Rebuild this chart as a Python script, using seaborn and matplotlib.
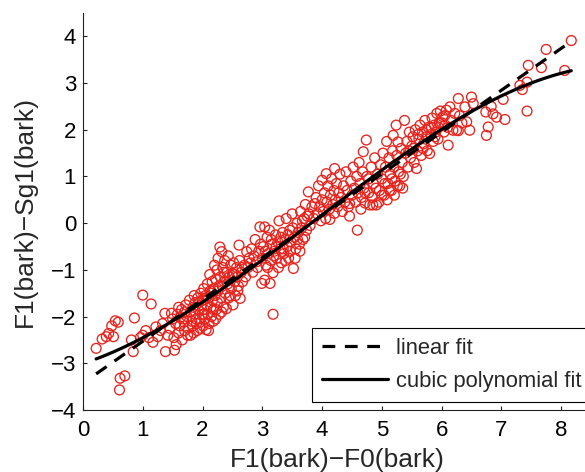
import numpy as np
import pandas as pd
import matplotlib
matplotlib.use("Agg")
import matplotlib.pyplot as plt
import seaborn as sns
from matplotlib.lines import Line2D

band_0_1 = [
    (0.22, -2.68), (0.32, -2.48), (0.39, -2.43), (0.43, -2.36), (0.48, -2.20),
    (0.51, -2.43), (0.54, -2.09), (0.59, -2.12), (0.61, -3.57), (0.62, -3.32),
    (0.70, -3.27), (0.81, -2.50), (0.84, -2.75), (0.86, -2.03), (0.96, -2.45),
    (1.00, -1.54), (1.00, -2.40), (1.05, -2.30), (1.10, -2.45), (1.14, -1.73),
    (1.17, -2.55), (1.22, -2.22), (1.25, -2.43), (1.30, -2.30), (1.33, -2.15),
    (1.37, -1.93), (1.38, -2.75), (1.42, -2.40), (1.48, -1.93), (1.53, -2.72),
]

band_1_2 = [
    (1.45, -2.25), (1.50, -2.05), (1.52, -2.45), (1.55, -2.15), (1.56, -2.60),
    (1.58, -1.95), (1.60, -2.35), (1.62, -2.20), (1.63, -2.02), (1.65, -1.85),
    (1.66, -2.50), (1.68, -2.05), (1.69, -2.12), (1.70, -2.30), (1.72, -1.75),
    (1.74, -2.00), (1.76, -2.25), (1.78, -1.65), (1.80, -1.90), (1.80, -2.40),
    (1.82, -2.10), (1.84, -1.80), (1.85, -2.35), (1.86, -1.55), (1.87, -1.95),
    (1.88, -1.70), (1.90, -2.15), (1.91, -2.30), (1.92, -1.60), (1.93, -1.85),
    (1.95, -2.05), (1.96, -2.25), (1.97, -1.50), (1.98, -1.75), (1.99, -1.95),
    (1.60, -1.80), (1.70, -1.90), (1.75, -2.40), (1.83, -2.20), (1.89, -2.05),
    (1.94, -1.70),
]

band_2_3 = [
    (2.00, -1.65), (2.01, -2.20), (2.02, -1.40), (2.03, -1.85), (2.04, -2.05),
    (2.05, -1.55), (2.06, -2.28), (2.07, -1.75), (2.08, -1.30), (2.09, -1.95),
    (2.10, -1.60), (2.11, -2.15), (2.12, -1.10), (2.13, -1.45), (2.14, -1.80),
    (2.15, -2.00), (2.16, -1.25), (2.17, -1.65), (2.18, -2.10), (2.19, -1.40),
    (2.20, -0.90), (2.21, -1.55), (2.22, -1.20), (2.23, -1.85), (2.24, -1.00),
    (2.25, -1.70), (2.26, -0.75), (2.27, -1.35), (2.28, -1.95), (2.29, -0.51),
    (2.30, -1.15), (2.31, -1.60), (2.32, -0.61), (2.33, -1.35), (2.34, -0.95),
    (2.35, -1.80), (2.36, -1.25), (2.37, -0.80), (2.38, -1.50), (2.40, -1.83),
    (2.41, -1.05), (2.42, -1.30), (2.43, -0.70), (2.44, -1.60), (2.45, -1.15),
    (2.47, -0.90), (2.48, -1.40), (2.50, -1.08), (2.51, -1.75), (2.52, -0.85),
    (2.54, -1.25), (2.55, -1.55), (2.57, -0.95), (2.58, -1.15), (2.60, -1.35),
    (2.61, -0.47), (2.62, -0.80), (2.63, -1.61), (2.65, -1.05), (2.67, -1.25),
    (2.70, -0.90), (2.72, -1.15), (2.74, -0.61), (2.76, -0.95), (2.78, -0.75),
    (2.80, -0.85), (2.82, -0.55), (2.84, -1.05), (2.86, -0.70), (2.88, -0.35),
    (2.90, -0.83), (2.92, -0.95), (2.94, -0.60), (2.96, -0.08), (2.97, -0.45),
    (2.02, -1.95), (2.06, -1.60), (2.10, -2.30), (2.14, -1.50), (2.18, -1.85),
    (2.22, -2.05), (2.26, -1.45), (2.32, -1.90), (2.36, -1.05), (2.40, -1.25),
    (2.46, -1.55), (2.53, -1.10), (2.59, -1.45), (2.66, -0.95),
]

band_3_4 = [
    (2.99, -1.29), (3.00, -0.75), (3.02, -0.50), (3.04, -1.22), (3.04, -0.08),
    (3.06, -0.90), (3.08, -0.30), (3.10, -0.65), (3.12, -0.15), (3.13, -1.29),
    (3.14, -0.80), (3.16, -0.45), (3.18, -1.95), (3.18, -1.06), (3.20, -0.60),
    (3.22, -0.25), (3.24, -0.75), (3.26, -0.40), (3.28, 0.05), (3.30, -0.55),
    (3.32, -0.85), (3.34, -0.20), (3.36, -0.65), (3.38, -0.35), (3.40, 0.10),
    (3.42, -0.50), (3.44, -0.75), (3.46, -0.15), (3.48, -0.40), (3.50, 0.20),
    (3.52, -0.97), (3.54, -0.30), (3.56, -0.55), (3.58, 0.00), (3.60, -0.20),
    (3.62, -0.45), (3.64, 0.25), (3.66, -0.10), (3.68, -0.35), (3.70, 0.10),
    (3.72, 0.40), (3.74, -0.15), (3.77, 0.67), (3.78, 0.20), (3.80, -0.05),
    (3.83, 0.35), (3.86, 0.10), (3.88, 0.42), (3.90, 0.55), (3.92, 0.20),
    (3.94, 0.80), (3.96, 0.35), (3.98, 0.05),
    (3.05, -0.60), (3.09, -0.95), (3.15, -0.35), (3.19, -0.70), (3.23, -0.50),
    (3.27, -0.95), (3.31, -0.30), (3.35, -0.55), (3.39, -0.80), (3.43, -0.25),
    (3.47, -0.60), (3.51, -0.10), (3.55, -0.75), (3.59, -0.35), (3.63, -0.60),
    (3.67, 0.05), (3.71, -0.30), (3.75, 0.15),
]

band_4_5 = [
    (4.00, 0.92), (4.00, 0.50), (4.02, 0.25), (4.04, 0.65), (4.06, 0.10),
    (4.07, 1.06), (4.08, 0.45), (4.10, 0.80), (4.12, 0.30), (4.13, 0.08),
    (4.14, 0.60), (4.16, 0.95), (4.18, 0.40), (4.20, 0.70), (4.21, 0.21),
    (4.21, 1.17), (4.22, 0.50), (4.24, 0.85), (4.26, 0.35), (4.28, 0.65),
    (4.30, 1.05), (4.32, 0.55), (4.34, 0.25), (4.36, 0.80), (4.38, 0.45),
    (4.40, 1.10), (4.42, 0.70), (4.44, 0.35), (4.46, 0.15), (4.46, 0.42),
    (4.48, 0.90), (4.50, 0.60), (4.52, 1.20), (4.54, 0.75), (4.56, 0.45),
    (4.58, 1.00), (4.59, -0.15), (4.60, 0.65), (4.62, 1.30), (4.64, 0.85),
    (4.66, 0.55), (4.68, 1.10), (4.69, 1.53), (4.70, 0.75), (4.72, 0.43),
    (4.74, 1.78), (4.75, 1.00), (4.78, 0.65), (4.80, 0.39), (4.82, 1.20),
    (4.85, 0.39), (4.86, 0.85), (4.88, 1.40), (4.91, 0.39), (4.93, 1.05),
    (4.96, 0.70), (4.98, 1.25),
    (4.65, 0.30), (4.72, 0.65), (4.78, 0.95), (4.84, 0.55), (4.90, 0.75),
    (4.95, 0.45),
]

band_5_6 = [
    (5.00, 0.95), (5.02, 1.50), (5.04, 0.60), (5.06, 1.20), (5.08, 1.75),
    (5.10, 0.85), (5.12, 1.40), (5.14, 1.05), (5.16, 0.70), (5.18, 1.55),
    (5.19, 1.88), (5.20, 1.20), (5.22, 0.90), (5.24, 2.10), (5.25, 1.45),
    (5.27, 1.74), (5.28, 1.10), (5.30, 0.80), (5.32, 1.60), (5.34, 1.30),
    (5.36, 1.00), (5.38, 2.20), (5.40, 1.50), (5.42, 1.75), (5.44, 1.20),
    (5.46, 1.95), (5.48, 1.40), (5.50, 1.65), (5.52, 1.85), (5.54, 1.30),
    (5.56, 2.00), (5.58, 1.17), (5.60, 1.55), (5.62, 1.80), (5.64, 2.10),
    (5.66, 1.45), (5.68, 1.95), (5.70, 1.70), (5.72, 2.20), (5.74, 1.85),
    (5.76, 1.55), (5.78, 2.05), (5.80, 1.49), (5.82, 1.90), (5.84, 2.25),
    (5.86, 1.75), (5.88, 2.10), (5.90, 1.95), (5.92, 2.35), (5.94, 1.80),
    (5.96, 2.15), (5.98, 2.40),
    (5.00, 0.60), (5.05, 0.85), (5.09, 0.50), (5.13, 0.70), (5.17, 0.95),
    (5.21, 0.60), (5.26, 0.80), (5.31, 1.05), (5.35, 0.75), (5.45, 1.55),
    (5.53, 1.60), (5.61, 1.90), (5.69, 1.60), (5.75, 2.00), (5.83, 2.05),
    (5.89, 1.85), (5.95, 2.05),
]

band_6_up = [
    (6.00, 2.15), (6.02, 2.28), (6.04, 1.95), (6.05, 2.30), (6.06, 2.10),
    (6.08, 2.42), (6.10, 2.05), (6.11, 1.67), (6.14, 2.49), (6.16, 2.20),
    (6.19, 1.99), (6.22, 2.35), (6.25, 1.99), (6.28, 1.98), (6.28, 2.67),
    (6.30, 2.30), (6.34, 2.15), (6.39, 2.49), (6.42, 2.17), (6.47, 1.99),
    (6.50, 2.70), (6.53, 2.56), (6.74, 2.38), (6.75, 1.88), (6.78, 2.06),
    (6.83, 2.50), (6.86, 2.34), (6.92, 2.27), (7.03, 2.65), (7.06, 2.22),
    (7.31, 2.95), (7.35, 2.86), (7.43, 3.02), (7.43, 2.40), (7.45, 3.38),
    (7.67, 3.33), (7.75, 3.72), (8.06, 3.27), (8.17, 3.91),
]

x_ticks = list(range(0, 9))
y_ticks = list(range(-4, 5))

sns.set_theme(style="ticks")
plt.rcParams["font.family"] = ["Liberation Sans", "DejaVu Sans"]


def veriyi_hazirla():
    bands = [band_0_1, band_1_2, band_2_3, band_3_4, band_4_5, band_5_6, band_6_up]
    pts = [p for b in bands for p in b]
    return pd.DataFrame(pts, columns=["f1_f0", "f1_sg1"])


def ciz(df):
    fig = plt.figure(figsize=(5.85, 4.72), dpi=100)
    ax = fig.add_axes([83 / 585, 62 / 472, 508 / 585, 397 / 472])

    sns.scatterplot(data=df, x="f1_f0", y="f1_sg1", ax=ax, marker="o", s=50,
                    facecolor="none", edgecolor="#e8221c", linewidth=0.95)

    sns.regplot(data=df, x="f1_f0", y="f1_sg1", ax=ax, order=1, ci=None,
                scatter=False, color="black",
                line_kws={"lw": 2.3, "ls": (0, (4, 3)), "dash_capstyle": "butt"})
    sns.regplot(data=df, x="f1_f0", y="f1_sg1", ax=ax, order=3, ci=None,
                scatter=False, color="black", line_kws={"lw": 2.3})

    ax.set_xlim(0, 8.5)
    ax.set_ylim(-4, 4.5)
    ax.set_xticks(x_ticks)
    ax.set_yticks(y_ticks)
    ax.tick_params(direction="in", length=3, width=0.8, labelsize=16,
                   color="#222222", labelcolor="black")
    ax.tick_params(axis="x", pad=7)
    ax.tick_params(axis="y", pad=5)
    for s in ["left", "bottom"]:
        ax.spines[s].set_linewidth(0.8)
        ax.spines[s].set_color("#222222")
    for s in ["right", "top"]:
        ax.spines[s].set_visible(False)

    ax.set_xlabel("F1(bark)\u2212F0(bark)", fontsize=19, labelpad=5)
    ax.set_ylabel("F1(bark)\u2212Sg1(bark)", fontsize=19, labelpad=10)

    handles = [
        Line2D([], [], color="black", lw=2.3, ls=(0, (4, 3)), dash_capstyle="butt"),
        Line2D([], [], color="black", lw=2.3),
    ]
    leg = ax.legend(handles, ["linear fit", "cubic polynomial fit"],
                    loc="lower left", bbox_to_anchor=(229 / 508, 8 / 397),
                    borderaxespad=0, fontsize=15.8, frameon=True, fancybox=False,
                    framealpha=1, edgecolor="black", handlelength=3.0,
                    handletextpad=0.4, labelspacing=0.55, borderpad=0.45)
    leg.get_frame().set_linewidth(0.8)

    fig.savefig("out.png", dpi=100)
    plt.close(fig)


if __name__ == "__main__":
    ciz(veriyi_hazirla())
